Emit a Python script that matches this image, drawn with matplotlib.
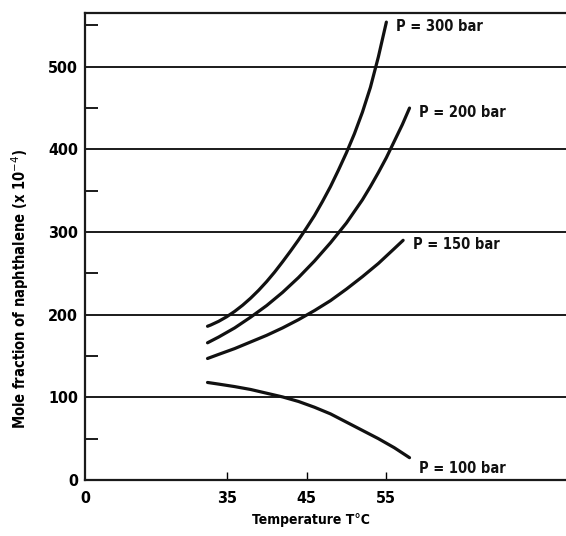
import matplotlib
matplotlib.use("Agg")
import matplotlib.pyplot as plt
from matplotlib.ticker import MultipleLocator

# Solubility of naphthalene in supercritical fluid vs temperature
t_300 = [32.6, 33, 34, 35, 36, 37, 38, 39, 40, 41, 42, 43, 44, 45, 46, 47, 48,
         49, 50, 51, 52, 53, 54, 55]
x_300 = [186, 187.5, 192, 197.5, 204, 211.5, 220, 229.5, 240, 251.5, 264, 277,
         290.5, 305, 320, 337, 355, 375, 396, 419, 445, 475, 512, 554]

t_200 = [32.6, 34, 35, 36, 37, 38, 39, 40, 41, 42, 43, 44, 45, 46, 47, 48, 49,
         50, 51, 52, 53, 54, 55, 56, 57, 57.9]
x_200 = [166, 173, 178.5, 184, 190.5, 197, 204, 211, 219, 227, 236, 245, 255,
         265, 276, 287, 299, 311, 325, 339, 355, 372, 390, 410, 430, 450]

t_150 = [32.6, 34, 36, 38, 40, 42, 44, 46, 48, 50, 52, 54, 56, 57.1]
x_150 = [147, 152, 159, 167, 175, 184, 194, 205, 217, 231, 246, 262, 280, 290]

t_100 = [32.6, 34, 36, 38, 40, 42, 44, 46, 48, 50, 52, 54, 56, 57.9]
x_100 = [118, 116, 113, 109.5, 105, 100.5, 95, 88, 80, 70, 60, 50, 39, 27]

labels = ['P = 300 bar', 'P = 200 bar', 'P = 150 bar', 'P = 100 bar']

x_ticks = [35, 45, 55]
y_ticks = [0, 100, 200, 300, 400, 500]

# left edge of the broken temperature axis is labelled as 0
t_left, t_right = 17.24, 77.5

font = dict(fontweight='bold', fontstretch='condensed')

fig = plt.figure(figsize=(5.66, 5.36), dpi=100)
ax = fig.add_axes([0.150, 0.1045, 0.85, 0.8712])

series = [(t_300, x_300), (t_200, x_200), (t_150, x_150), (t_100, x_100)]
for t, x in series:
    ax.plot(t, x, color='#111111', lw=2.3, solid_capstyle='round')

# curve labels just right of the line ends
for (t, x), lab in zip(series, labels):
    ax.annotate(lab, xy=(t[-1], x[-1]), xytext=(7, -8 if lab == labels[3] else -3),
                textcoords='offset points', ha='left', va='center',
                fontsize=10.5, color='#111111', **font)

for v in y_ticks[1:]:
    ax.axhline(v, color='#1a1a1a', lw=1.4, zorder=0)

ax.set_xlim(t_left, t_right)
ax.set_ylim(0, 565)

ax.set_xticks([t_left] + x_ticks)
ax.set_xticklabels(['0'] + [str(v) for v in x_ticks])
ax.set_yticks(y_ticks)
ax.yaxis.set_minor_locator(MultipleLocator(50))

ax.tick_params(axis='y', which='major', length=0, pad=5, labelsize=11.5)
ax.tick_params(axis='y', which='minor', direction='in', length=9, width=1.4,
               color='#1a1a1a')
ax.tick_params(axis='x', which='major', direction='in', length=6, width=1.0,
               pad=8, labelsize=11.5)
for lab in ax.get_xticklabels() + ax.get_yticklabels():
    lab.set_fontweight('bold')
    lab.set_fontstretch('condensed')
ax.xaxis.get_major_ticks()[0].tick1line.set_visible(False)

for side in ['left', 'bottom', 'top']:
    ax.spines[side].set_linewidth(1.6)
    ax.spines[side].set_color('#1a1a1a')
ax.spines['right'].set_visible(False)

ax.set_xlabel('Temperature T°C', fontsize=10, labelpad=5, x=0.47, **font)
ax.set_ylabel('Mole fraction of naphthalene (x 10$^{-4}$)', fontsize=10.5,
              labelpad=12, y=0.41, **font)

fig.savefig('out.png', dpi=100)
